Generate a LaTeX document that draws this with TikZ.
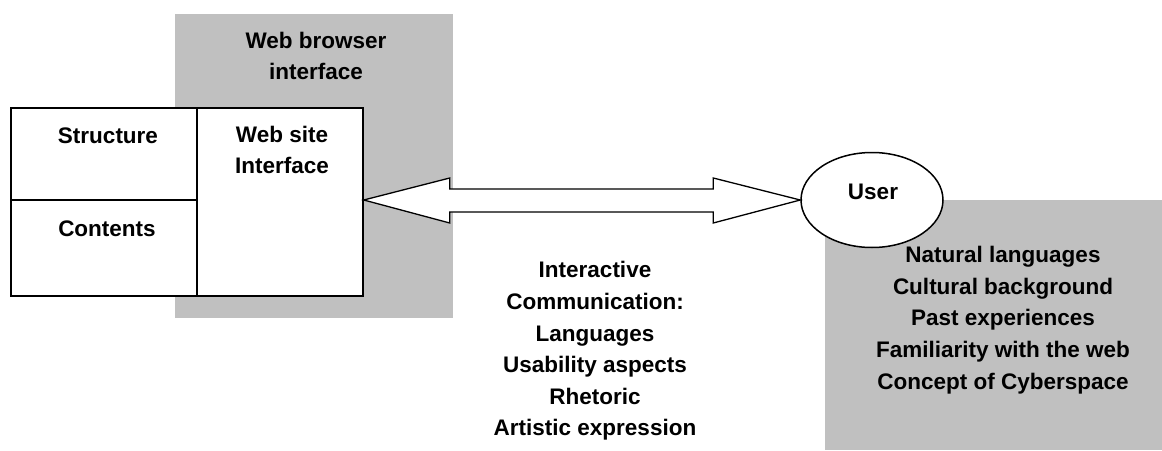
\documentclass[tikz,border=0pt]{standalone}
\usepackage{fontspec}
\setmainfont{Liberation Sans}
\usetikzlibrary{calc}
\definecolor{panelgrey}{RGB}{192,192,192}
\tikzset{
  panel/.style={fill=panelgrey, draw=none},
  cell/.style={draw=black, line width=1.5pt, fill=white, inner sep=0pt},
  lbl/.style={font=\fontsize{22.5}{31.6}\selectfont\bfseries, align=center, inner sep=0pt},
  bigarrow/.style={draw=black, line width=1.3pt, fill=white, line join=miter},
  userbubble/.style={draw=black, line width=1.5pt, fill=white, ellipse, minimum width=142pt, minimum height=95pt, inner sep=0pt}
}
\usetikzlibrary{shapes.geometric}
\begin{document}
\begin{tikzpicture}[x=1pt, y=-1pt]
  \useasboundingbox (0,0) rectangle (1162,450);
  % grey backdrops
  \fill[panelgrey] (175,14) rectangle (453,318);
  \fill[panelgrey] (825,200) rectangle (1162,450);
  \node[lbl] (browser) at (316,56) {Web browser\\interface};

  % web site block
  \node[cell, minimum width=186pt, minimum height=92pt] (struct) at (104,154) {};
  \node[cell, minimum width=186pt, minimum height=96pt] (cont) at (104,248) {};
  \node[cell, minimum width=166pt, minimum height=188pt] (site) at (280,202) {};
  \node[lbl] (structlbl) at (108,136) {Structure};
  \node[lbl] (contlbl) at (107,229) {Contents};
  \node[lbl] (sitelbl) at (282,150) {Web site\\Interface};

  % user
  \node[userbubble] (user) at (872,200) {};
  \node[lbl] (userlbl) at (873,192) {User};

  % two-headed arrow between site and user
  \coordinate (aL) at (site.east |- user.west);
  \draw[bigarrow] (aL) -- ([shift={(86,-22)}]aL) -- ([shift={(86,-11)}]aL)
    -- ([shift={(-87,-11)}]user.west) -- ([shift={(-87,-22)}]user.west)
    -- (user.west)
    -- ([shift={(-87,23)}]user.west) -- ([shift={(-87,12)}]user.west)
    -- ([shift={(86,12)}]aL) -- ([shift={(86,23)}]aL) -- cycle;

  % descriptions
  \node[lbl] (comm) at (595,351) {Interactive\\Communication:\\Languages\\Usability aspects\\Rhetoric\\Artistic expression};
  \node[lbl] (traits) at (1003,320) {Natural languages\\Cultural background\\Past experiences\\Familiarity with the web\\Concept of Cyberspace};
\end{tikzpicture}
\end{document}
